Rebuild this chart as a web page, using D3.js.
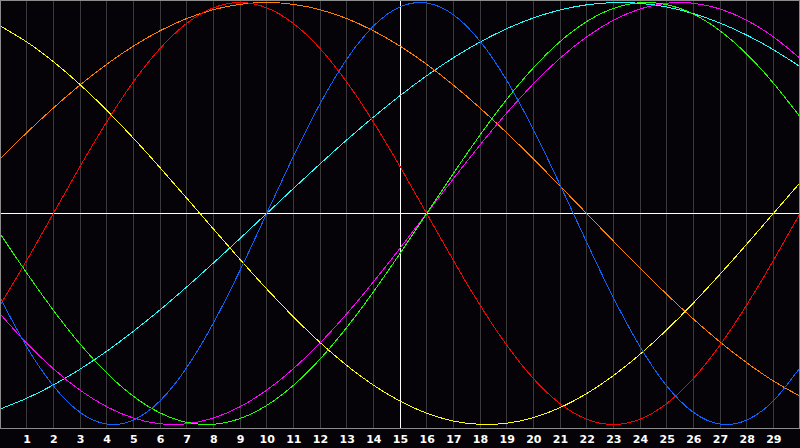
<!DOCTYPE html>
<html>
<head>
<meta charset="utf-8">
<script src="https://cdn.jsdelivr.net/npm/d3@7"></script>
<style>
  html, body { margin: 0; padding: 0; background: #050307; }
  svg { display: block; }
</style>
</head>
<body>
<svg id="chart" width="800" height="448"></svg>
<script>
// Day positions (0 = left edge, 30 = right edge)
const days = d3.range(0, 31);
const tickDays = d3.range(1, 30);
const tickLabels = tickDays.map(String);
const todayDay = 15;

// Cycle values (-1 .. 1), one per day
const physical = [-0.3984,-0.6311,-0.8170,-0.9423,-0.9977,-0.9791,-0.8879,-0.7308,-0.5195,-0.2698,0,0.2698,0.5195,0.7308,0.8879,0.9791,0.9977,0.9423,0.8170,0.6311,0.3984,0.1362,-0.1362,-0.3984,-0.6311,-0.8170,-0.9423,-0.9977,-0.9791,-0.8879,-0.7308];
const emotional = [-0.4339,-0.2225,0,0.2225,0.4339,0.6235,0.7818,0.9010,0.9749,1.0,0.9749,0.9010,0.7818,0.6235,0.4339,0.2225,0,-0.2225,-0.4339,-0.6235,-0.7818,-0.9010,-0.9749,-1.0,-0.9749,-0.9010,-0.7818,-0.6235,-0.4339,-0.2225,0];
const intellectual = [-0.0950,-0.2817,-0.4582,-0.6182,-0.7557,-0.8660,-0.9450,-0.9898,-0.9989,-0.9718,-0.9096,-0.8146,-0.6901,-0.5406,-0.3717,-0.1893,0,0.1893,0.3717,0.5406,0.6901,0.8146,0.9096,0.9718,0.9989,0.9898,0.9450,0.8660,0.7557,0.6182,0.4582];
const intuitive = [-0.4759,-0.6142,-0.7357,-0.8372,-0.9158,-0.9694,-0.9966,-0.9966,-0.9694,-0.9158,-0.8372,-0.7357,-0.6142,-0.4759,-0.3247,-0.1646,0,0.1646,0.3247,0.4759,0.6142,0.7357,0.8372,0.9158,0.9694,0.9966,0.9966,0.9694,0.9158,0.8372,0.7357];
const aesthetic = [0.8893,0.8133,0.7200,0.6112,0.4894,0.3573,0.2175,0.0730,-0.0730,-0.2175,-0.3573,-0.4894,-0.6112,-0.7200,-0.8133,-0.8893,-0.9464,-0.9834,-0.9993,-0.9940,-0.9675,-0.9203,-0.8535,-0.7686,-0.6673,-0.5518,-0.4245,-0.2881,-0.1456,0,0.1456];
const awareness = [0.2588,0.3827,0.5,0.6088,0.7071,0.7934,0.8660,0.9239,0.9659,0.9914,1,0.9914,0.9659,0.9239,0.8660,0.7934,0.7071,0.6088,0.5,0.3827,0.2588,0.1305,0,-0.1305,-0.2588,-0.3827,-0.5,-0.6088,-0.7071,-0.7934,-0.8660];
const spiritual = [-0.9267,-0.8758,-0.8126,-0.7379,-0.6529,-0.5586,-0.4566,-0.3482,-0.2349,-0.1183,0,0.1183,0.2349,0.3482,0.4566,0.5586,0.6529,0.7379,0.8126,0.8758,0.9267,0.9646,0.9890,0.9996,0.9961,0.9786,0.9473,0.9028,0.8457,0.7764,0.6965];

const seriesNames = ["spiritual","awareness","aesthetic","intuitive","intellectual","emotional","physical"];
const seriesValues = [spiritual, awareness, aesthetic, intuitive, intellectual, emotional, physical];
const seriesColors = ["#22ffff","#ff7f00","#ffff00","#ff00ff","#22ff00","#ff0000","#0a64ff"];

const W = 800, H = 448;
const plot = {left: 0, top: 0, right: 799, bottom: 428};

const svg = d3.select("#chart");
svg.append("rect").attr("x",0).attr("y",0).attr("width",W).attr("height",H).attr("fill","#050307");

const x = d3.scaleLinear().domain([0, 30]).range([0, 800]);
const y = d3.scaleLinear().domain([-1, 1]).range([424.5, 2.5]);
const px = v => Math.floor(v) + 0.5;

svg.append("defs").append("clipPath").attr("id","clip")
  .append("rect").attr("x",1).attr("y",1).attr("width",plot.right-1).attr("height",plot.bottom-1);

// vertical day grid
svg.append("g").selectAll("line").data(tickDays).join("line")
  .attr("x1", d => px(x(d))).attr("x2", d => px(x(d)))
  .attr("y1", 1).attr("y2", plot.bottom)
  .attr("stroke", "#3a3a3c").attr("stroke-width", 1)
  .attr("shape-rendering","crispEdges");

// zero line and today line
svg.append("line")
  .attr("x1", 1).attr("x2", plot.right)
  .attr("y1", px(y(0))).attr("y2", px(y(0)))
  .attr("stroke", "#ffffff").attr("shape-rendering","crispEdges");
svg.append("line")
  .attr("x1", px(x(todayDay))).attr("x2", px(x(todayDay)))
  .attr("y1", 1).attr("y2", plot.bottom)
  .attr("stroke", "#ffffff").attr("shape-rendering","crispEdges");

// cycles
const line = d3.line()
  .x((d, i) => x(days[i]))
  .y(d => y(d))
  .curve(d3.curveNatural);

svg.append("g").attr("clip-path","url(#clip)")
  .selectAll("path").data(seriesValues).join("path")
  .attr("d", d => line(d))
  .attr("fill","none")
  .attr("stroke", (d, i) => seriesColors[i])
  .attr("stroke-width", 1)
  .attr("shape-rendering","crispEdges");

// border
svg.append("rect")
  .attr("x", 0.5).attr("y", 0.5)
  .attr("width", plot.right).attr("height", plot.bottom)
  .attr("fill","none").attr("stroke","#8c8c8c")
  .attr("shape-rendering","crispEdges");

// day labels
const xAxis = d3.axisBottom(x).tickValues(tickDays).tickFormat((d, i) => tickLabels[i]).tickSize(0).tickPadding(0);
const ax = svg.append("g").attr("transform", `translate(0, ${plot.bottom})`).call(xAxis);
ax.select(".domain").remove();
ax.selectAll("text")
  .attr("dy", null)
  .attr("y", 15)
  .attr("fill", "#ffffff")
  .attr("font-family", "'DejaVu Sans', sans-serif")
  .attr("font-weight", "bold")
  .attr("font-size", 11);
</script>
</body>
</html>
